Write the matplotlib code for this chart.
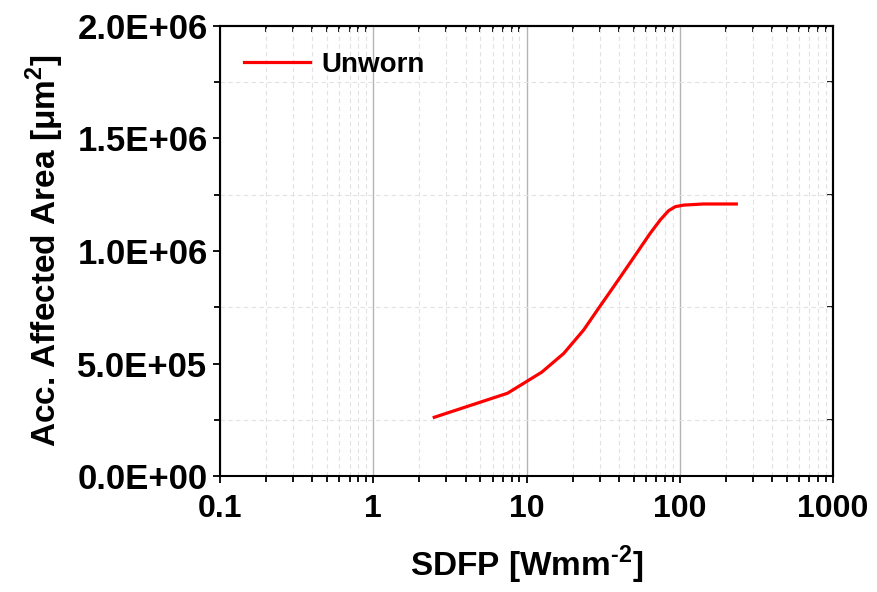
import matplotlib
matplotlib.use("Agg")
import matplotlib.pyplot as plt
from matplotlib.ticker import LogLocator, MultipleLocator, FixedLocator, NullFormatter

plt.rcParams['font.family'] = ['Liberation Sans', 'DejaVu Sans']
plt.rcParams['font.weight'] = 'bold'
plt.rcParams['mathtext.fontset'] = 'custom'
plt.rcParams['mathtext.rm'] = 'Liberation Sans:bold'
plt.rcParams['mathtext.bf'] = 'Liberation Sans:bold'

# data
sdfp = [2.5, 7.52, 12.6, 17.5, 23.6, 29.5, 37.0, 48.8, 64.2, 74.6, 84.5,
        93.5, 106, 143, 234]
area = [0.261e6, 0.368e6, 0.462e6, 0.545e6, 0.649e6, 0.745e6, 0.841e6,
        0.960e6, 1.079e6, 1.138e6, 1.179e6, 1.197e6, 1.204e6, 1.209e6, 1.209e6]
xticks = [0.1, 1, 10, 100, 1000]
xticklabels = ['0.1', '1', '10', '100', '1000']
yticks = [0, 0.5e6, 1.0e6, 1.5e6, 2.0e6]
yticklabels = ['0.0E+00', '5.0E+05', '1.0E+06', '1.5E+06', '2.0E+06']

fig = plt.figure(figsize=(8.77, 5.92), dpi=100)
ax = fig.add_axes([0.2509, 0.1959, 0.6989, 0.7602])

ax.plot(sdfp, area, color='#ff0000', lw=2.3, label='Unworn', zorder=3,
        solid_joinstyle='round')

ax.set_xscale('log')
ax.set_xlim(0.1, 1000)
ax.set_ylim(0, 2.0e6)

ax.set_xticks(xticks)
ax.set_xticklabels(xticklabels, fontsize=23, fontweight='bold')
ax.xaxis.set_minor_locator(LogLocator(base=10, subs=range(2, 10)))
ax.xaxis.set_minor_formatter(NullFormatter())
ax.set_yticks(yticks)
ax.set_yticklabels(yticklabels, fontsize=25, fontweight='bold')
ax.yaxis.set_minor_locator(MultipleLocator(0.25e6))

ax.tick_params(which='both', direction='out', width=1.3, colors='black')
ax.tick_params(which='major', length=5)
ax.tick_params(which='minor', length=4)
ax.tick_params(axis='x', pad=8)
ax.tick_params(axis='y', pad=4)

# grid
ax.grid(which='major', axis='x', color='#b4b4b4', lw=1.0, ls='-')
ax.grid(which='minor', axis='x', color='#e2e2e2', lw=0.8, ls=(0, (4, 3)))
ax.grid(which='minor', axis='y', color='#e2e2e2', lw=0.8, ls=(0, (4, 3)))
ax.set_axisbelow(True)

for s in ax.spines.values():
    s.set_linewidth(1.5)

# minor ticks pointing inward on top and right
top = ax.secondary_xaxis('top')
top.set_xticks([])
top.xaxis.set_minor_locator(LogLocator(base=10, subs=range(2, 10)))
top.xaxis.set_minor_formatter(NullFormatter())
top.tick_params(which='minor', direction='in', length=4, width=1.3)
top.spines['top'].set_linewidth(1.5)
right = ax.secondary_yaxis('right')
right.set_yticks([])
right.yaxis.set_minor_locator(FixedLocator([0.25e6, 0.75e6, 1.25e6, 1.75e6]))
right.tick_params(which='minor', direction='in', length=4, width=1.3)
right.spines['right'].set_linewidth(1.5)

ax.set_xlabel(r'SDFP [Wmm$^{\text{-2}}$]', fontsize=24, fontweight='bold', labelpad=14)
ax.set_ylabel(r'Acc. Affected Area [$\mathrm{\mu}$m$^{2}$]', fontsize=24,
              fontweight='bold', labelpad=8)

leg = ax.legend(loc='upper left', frameon=False, fontsize=20,
                handlelength=2.4, handletextpad=0.4,
                bbox_to_anchor=(0.0, 0.995), borderaxespad=0.45)
for t in leg.get_texts():
    t.set_fontweight('bold')

fig.savefig('out.png', dpi=100)
